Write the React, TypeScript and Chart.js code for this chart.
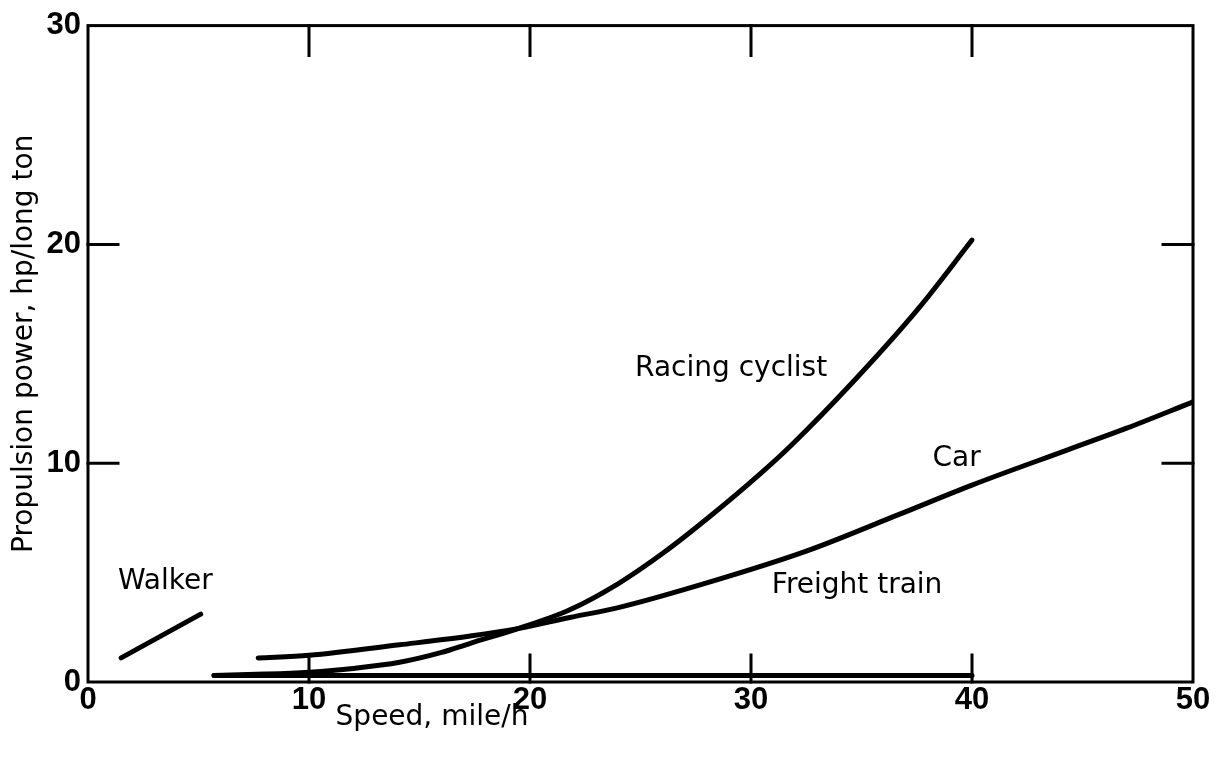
import React, { useEffect, useRef } from "react";
import { Chart, registerables } from "chart.js";

Chart.register(...registerables);

// ---- data ----
const walkerX = [1.5, 5.1];
const walkerY = [1.1, 3.1];

const cyclistX = [5.7, 8, 10, 12, 14.1, 16, 17.3, 19.5, 21.8, 24, 26.1, 28.3, 30.4, 31.8, 34.6, 37.6, 40];
const cyclistY = [0.3, 0.36, 0.45, 0.62, 0.9, 1.35, 1.77, 2.45, 3.3, 4.5, 5.95, 7.7, 9.5, 10.8, 13.7, 17.1, 20.2];

const carX = [7.7, 10, 14.1, 17.3, 19.5, 21.8, 24, 28.3, 32.5, 36.7, 40, 44.3, 47, 50];
const carY = [1.1, 1.22, 1.7, 2.1, 2.45, 2.95, 3.4, 4.62, 5.98, 7.66, 9.0, 10.6, 11.6, 12.8];

const freightX = [5.7, 40];
const freightY = [0.3, 0.3];

const xTickValues = [0, 10, 20, 30, 40, 50];
const yTickValues = [0, 10, 20, 30];
const innerXTicks = [10, 20, 30, 40];
const innerYTicks = [10, 20];

const seriesNames = ["Walker", "Racing cyclist", "Car", "Freight train"];
const labelAnchorsX = [3.5, 29.1, 39.3, 34.8];
const labelAnchorsY = [4.6, 14.3, 10.2, 4.4];

const xTitle = "Speed, mile/h";
const yTitle = "Propulsion power, hp/long ton";

const FONT = "'DejaVu Sans', 'Liberation Sans', sans-serif";
const TICK_FONT = "'Liberation Sans', Arial, sans-serif";

const toPoints = (xs: number[], ys: number[]) => xs.map((x, i) => ({ x, y: ys[i] }));

const framePlugin = {
  id: "framePlugin",
  afterDraw(chart: any) {
    const { ctx, chartArea } = chart;
    const xs = chart.scales.x;
    const ys = chart.scales.y;
    const { left, right, top, bottom } = chartArea;
    ctx.save();
    ctx.strokeStyle = "#000";
    ctx.lineWidth = 3;
    ctx.lineCap = "square";
    ctx.strokeRect(left, top, right - left, bottom - top);
    ctx.beginPath();
    innerXTicks.forEach((v) => {
      const px = xs.getPixelForValue(v);
      ctx.moveTo(px, top);
      ctx.lineTo(px, top + 30);
      ctx.moveTo(px, bottom);
      ctx.lineTo(px, bottom - 27);
    });
    innerYTicks.forEach((v) => {
      const py = ys.getPixelForValue(v);
      ctx.moveTo(left, py);
      ctx.lineTo(left + 30, py);
      ctx.moveTo(right, py);
      ctx.lineTo(right - 30, py);
    });
    ctx.stroke();

    ctx.fillStyle = "#000";
    ctx.font = `28px ${FONT}`;
    ctx.textAlign = "center";
    ctx.textBaseline = "middle";
    seriesNames.forEach((name, i) => {
      ctx.fillText(name, xs.getPixelForValue(labelAnchorsX[i]), ys.getPixelForValue(labelAnchorsY[i]));
    });

    // axis titles
    ctx.fillText(xTitle, left + 344, bottom + 36);
    ctx.save();
    ctx.translate(25, (top + bottom) / 2 - 10);
    ctx.rotate(-Math.PI / 2);
    ctx.fillText(yTitle, 0, 0);
    ctx.restore();
    ctx.restore();
  },
};

export default function App() {
  const ref = useRef<HTMLCanvasElement | null>(null);

  useEffect(() => {
    if (!ref.current) return;
    const line = (pts: any) => ({
      data: pts,
      showLine: true,
      borderColor: "#000",
      backgroundColor: "#000",
      borderWidth: 5,
      borderCapStyle: "round" as const,
      pointRadius: 0,
      pointHoverRadius: 0,
      cubicInterpolationMode: "monotone" as const,
      fill: false,
    });
    const chart = new Chart(ref.current, {
      type: "scatter",
      data: {
        datasets: [
          { label: seriesNames[0], ...line(toPoints(walkerX, walkerY)) },
          { label: seriesNames[1], ...line(toPoints(cyclistX, cyclistY)) },
          { label: seriesNames[2], ...line(toPoints(carX, carY)) },
          { label: seriesNames[3], ...line(toPoints(freightX, freightY)) },
        ],
      },
      options: {
        responsive: false,
        animation: false,
        devicePixelRatio: 1,
        layout: { padding: { top: 16, right: 25, left: 0, bottom: 0 } },
        plugins: { legend: { display: false }, tooltip: { enabled: false } },
        scales: {
          x: {
            type: "linear",
            min: 0,
            max: 50,
            afterBuildTicks: (s: any) => {
              s.ticks = xTickValues.map((v) => ({ value: v }));
            },
            afterFit: (s: any) => {
              s.height = 77;
            },
            ticks: {
              color: "#000",
              font: { family: TICK_FONT, size: 31, weight: "bold" },
              padding: 0,
              maxRotation: 0,
            },
            grid: { display: false, drawTicks: false },
            border: { display: false },
          },
          y: {
            type: "linear",
            min: 0,
            max: 30,
            afterBuildTicks: (s: any) => {
              s.ticks = yTickValues.map((v) => ({ value: v }));
            },
            afterFit: (s: any) => {
              s.width = 88;
            },
            ticks: {
              color: "#000",
              font: { family: TICK_FONT, size: 31, weight: "bold" },
              padding: 7,
            },
            grid: { display: false, drawTicks: false },
            border: { display: false },
          },
        },
      },
      plugins: [framePlugin],
    });
    return () => chart.destroy();
  }, []);

  return (
    <div style={{ position: "absolute", left: 0, top: 0, width: 1218, height: 759, background: "#fff" }}>
      <canvas ref={ref} width={1218} height={759} />
    </div>
  );
}
